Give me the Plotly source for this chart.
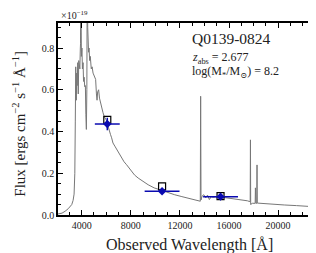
import plotly.graph_objects as go

# Model spectrum (units of 1e-19 erg cm^-2 s^-1 A^-1)
wave = [2070, 2400, 2650, 2900, 3190, 3300, 3380, 3440, 3480, 3513, 3560, 3600, 3627, 3680,
        3720, 3760, 3789, 3850, 3890, 3905, 3919, 3933, 3976, 4020, 4060, 4114, 4150, 4200,
        4244, 4300, 4340, 4381, 4420, 4450, 4470, 4490, 4560, 4600, 4650, 4700, 4780, 4850,
        4925, 5000, 5080, 5136, 5200, 5250, 5300, 5380, 5450, 5542, 5620, 5737, 5850, 6004,
        6100, 6200, 6272, 6350, 6437, 6548, 6700, 6843, 7000, 7249, 7450, 7655, 7850, 8060,
        8300, 8600, 9000, 9412, 9900, 10548, 11000, 11578, 12100, 12657, 13100, 13468, 13620,
        13660, 13690, 13720, 13800, 13950, 14100, 14250, 14400, 14550, 14700, 14900, 15100,
        15400, 15700, 16000, 16500, 17000, 17500, 17700, 17725, 17745, 17765, 17790, 17900,
        18100, 18130, 18150, 18170, 18190, 18260, 18281, 18300, 18330, 18700, 19500, 20500,
        21500, 22500, 23330]
flux = [0.005, 0.009, 0.018, 0.030, 0.050, 0.070, 0.100, 0.200, 0.450, 0.710, 0.550, 0.680,
        0.620, 0.730, 0.580, 0.740, 0.730, 0.700, 0.800, 0.820, 1.300, 0.820, 0.760, 0.800,
        0.700, 0.730, 0.640, 0.660, 0.615, 0.620, 0.480, 0.410, 0.600, 0.700, 1.500, 0.900,
        0.780, 0.800, 0.740, 0.760, 0.700, 0.710, 0.680, 0.670, 0.660, 0.650, 0.580, 0.550,
        0.590, 0.600, 0.560, 0.537, 0.510, 0.490, 0.470, 0.455, 0.435, 0.415, 0.390, 0.385,
        0.370, 0.345, 0.330, 0.315, 0.300, 0.273, 0.255, 0.241, 0.225, 0.209, 0.192, 0.177,
        0.160, 0.145, 0.130, 0.116, 0.106, 0.097, 0.089, 0.081, 0.075, 0.069, 0.066, 0.066,
        0.569, 0.072, 0.090, 0.097, 0.082, 0.095, 0.074, 0.088, 0.085, 0.087, 0.085, 0.087,
        0.083, 0.081, 0.077, 0.073, 0.068, 0.064, 0.064, 0.360, 0.050, 0.052, 0.056, 0.056,
        0.056, 0.130, 0.056, 0.056, 0.056, 0.240, 0.057, 0.057, 0.055, 0.052, 0.048, 0.045,
        0.041, 0.038]

# Photometry
phot_wave = [6085, 10548, 15310]
phot_wave_err = [1014, 1420, 1420]
phot_obs = [0.436, 0.1135, 0.088]
phot_obs_err = [0.03, 0.01, 0.005]
phot_model = [0.456, 0.137, 0.090]

# Axis ticks
x_ticks = [4000, 8000, 12000, 16000, 20000]
x_ticklabels = ["4000", "8000", "12000", "16000", "20000"]

blue = "#0a0ab0"
font = "'Liberation Serif', 'DejaVu Serif', serif"

fig = go.Figure()
fig.add_trace(go.Scatter(x=wave, y=flux, mode="lines",
                         line=dict(color="#777777", width=1), showlegend=False))
fig.add_trace(go.Scatter(x=phot_wave, y=phot_model, mode="markers",
                         marker=dict(symbol="square-open", size=7, color="black",
                                     line=dict(width=1.2, color="black")),
                         showlegend=False))
fig.add_trace(go.Scatter(x=phot_wave, y=phot_obs, mode="markers",
                         marker=dict(symbol="diamond", size=6.5, color=blue),
                         error_x=dict(type="data", array=phot_wave_err, color=blue,
                                      thickness=1.5, width=0),
                         error_y=dict(type="data", array=phot_obs_err, color=blue,
                                      thickness=1.5, width=0),
                         showlegend=False))

axis_common = dict(showline=True, linecolor="black", linewidth=1.5, mirror="ticks",
                   ticks="inside", ticklen=5, tickwidth=1.2, tickcolor="black",
                   showgrid=False, zeroline=False,
                   tickfont=dict(family=font, size=10, color="#222"))

fig.update_xaxes(range=[2070, 23330], tickvals=x_ticks, ticktext=x_ticklabels,
                 minor=dict(dtick=1000, tick0=0, ticks="inside", ticklen=3,
                            tickcolor="black", tickwidth=1),
                 **axis_common)
fig.update_yaxes(range=[0, 0.92], dtick=0.2, tickformat=".1f",
                 minor=dict(dtick=0.05, tick0=0, ticks="inside", ticklen=3,
                            tickcolor="black", tickwidth=1),
                 **axis_common)

ann = [
    dict(text="Q0139-0824", x=0.506, y=0.917, size=15.5),
    dict(text="<i>z</i><sub>abs</sub> = 2.677", x=0.506, y=0.818, size=12),
    dict(text="log(M<sub>*</sub>/M<sub>⊙</sub>) = 8.2", x=0.506, y=0.747, size=12),
    dict(text="×10<sup>−19</sup>", x=0.005, y=1.04, size=10),
]
for a in ann:
    fig.add_annotation(xref="paper", yref="paper", xanchor="left", yanchor="middle",
                       showarrow=False, x=a["x"], y=a["y"], text=a["text"],
                       font=dict(family=font, color="#222", size=a["size"]))

fig.add_annotation(xref="paper", yref="paper", x=0.502, y=-0.156, xanchor="center",
                   yanchor="middle", showarrow=False, text="Observed Wavelength [Å]",
                   font=dict(family=font, size=16, color="#222"))
fig.add_annotation(xref="paper", yref="paper", x=-0.15, y=0.475, xanchor="center",
                   yanchor="middle", showarrow=False, textangle=-90,
                   text="Flux [ergs cm<sup>−2</sup> s<sup>−1</sup> Å<sup>−1</sup>]",
                   font=dict(family=font, size=15, color="#222"))

fig.update_layout(width=316, height=253, margin=dict(l=49.5, r=4.5, t=15, b=46),
                  paper_bgcolor="white", plot_bgcolor="white",
                  font=dict(family=font))

fig.write_html("out.html")
